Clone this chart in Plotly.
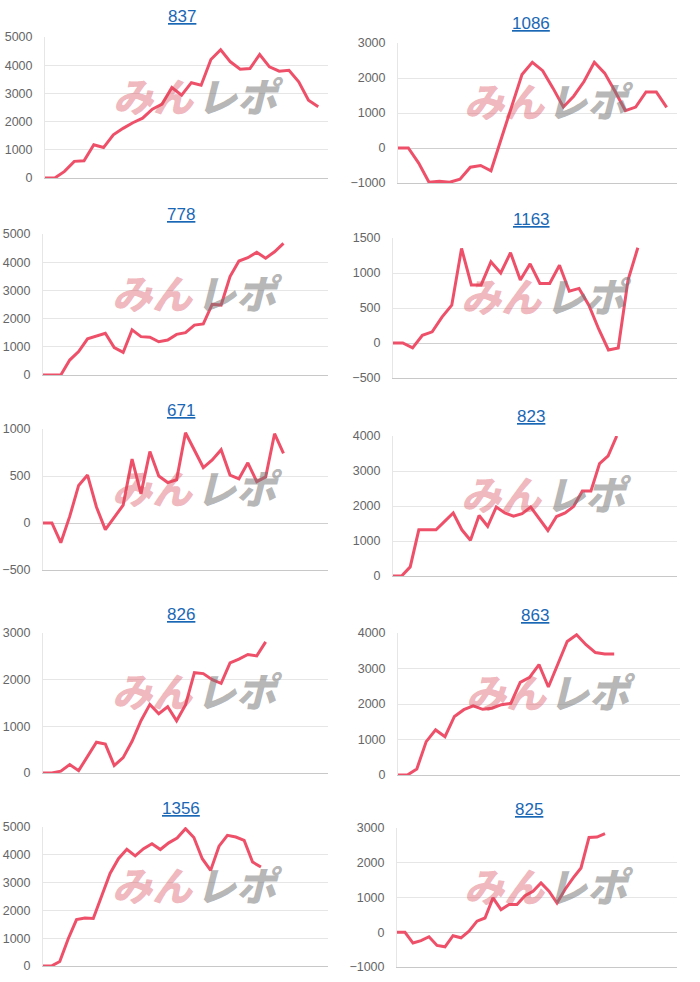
import plotly.graph_objects as go

W, H = 700, 982

titles = ["837", "1086", "778", "1163", "671", "823", "826", "863", "1356", "825"]

s837 = [0, 0, 235, 590, 610, 1180, 1080, 1530, 1760, 1960, 2120, 2440, 2620, 3210, 2940, 3380, 3290,
        4200, 4550, 4120, 3860, 3880, 4380, 3940, 3790, 3820, 3410, 2760, 2530]
s1086 = [0, 0, -430, -980, -950, -980, -890, -550, -500, -650, 270, 1190, 2100, 2450, 2210, 1710, 1170,
         1480, 1900, 2450, 2140, 1620, 1070, 1170, 1600, 1600, 1160]
s778 = [0, 0, 0, 530, 830, 1280, 1390, 1480, 970, 800, 1600, 1360, 1340, 1180, 1240, 1440, 1500, 1770,
        1810, 2510, 2480, 3490, 4040, 4160, 4350, 4140, 4370, 4670]
s1163 = [0, 0, -70, 110, 160, 370, 540, 1350, 830, 830, 1160, 1000, 1290, 900, 1130, 850, 850, 1110,
         740, 780, 540, 200, -100, -70, 900, 1360]
s671 = [0, 0, -210, 70, 400, 510, 170, -70, 60, 190, 680, 310, 760, 500, 430, 460, 960, 780, 590, 670,
        780, 510, 470, 640, 440, 490, 950, 740]
s823 = [0, 0, 260, 1320, 1320, 1320, 1560, 1800, 1320, 1020, 1730, 1420, 1970, 1800, 1710, 1780, 1970,
        1640, 1300, 1700, 1800, 1990, 2430, 2430, 3210, 3430, 4000]
s826 = [0, 0, 40, 180, 50, 360, 660, 620, 160, 330, 680, 1120, 1470, 1270, 1420, 1120, 1460, 2150, 2130,
        2000, 1920, 2360, 2440, 2540, 2510, 2810]
s863 = [0, 0, 170, 940, 1270, 1080, 1650, 1840, 1950, 1850, 1880, 1980, 2020, 2610, 2750, 3110, 2480,
        3110, 3760, 3950, 3670, 3450, 3410, 3410]
s1356 = [0, 0, 160, 970, 1670, 1730, 1710, 2510, 3330, 3860, 4200, 3960, 4220, 4400, 4190, 4430, 4600,
         4940, 4620, 3860, 3440, 4310, 4700, 4640, 4520, 3740, 3560]
s825 = [0, 0, -310, -240, -130, -380, -420, -100, -160, 30, 320, 410, 990, 650, 800, 800, 1050, 1180,
        1420, 1180, 840, 1230, 1560, 1850, 2730, 2740, 2840]

series = [s837, s1086, s778, s1163, s671, s823, s826, s863, s1356, s825]

# y axis tick ranges (min, max, step)
y_ticks = [(0, 5000, 1000), (-1000, 3000, 1000), (0, 5000, 1000), (-500, 1500, 500),
           (-500, 1000, 500), (0, 4000, 1000), (0, 3000, 1000), (0, 4000, 1000),
           (0, 5000, 1000), (-1000, 3000, 1000)]
# number of x slots shown on each axis
x_slots = [29, 27, 32, 29, 32, 33, 32, 30, 34, 35]

# ---- layout geometry (pixels) ----
boxes = [
    (45, 328, 37, 178),
    (398, 677, 43, 183),
    (43, 328, 234, 375),
    (393, 677, 238, 378),
    (43, 328, 429, 570),
    (393, 677, 436, 576),
    (43, 328, 633, 773),
    (398, 680, 633, 775),
    (43, 328, 827, 966),
    (397, 677, 828, 967),
]
title_pos = [(182, 17), (531, 24), (181, 215), (531, 219), (181, 410),
             (531, 416), (181, 614), (535, 615), (181, 808), (529, 809)]

LINE = "#ee5069"
fig = go.Figure()
layout = dict(width=W, height=H, margin=dict(l=0, r=0, t=0, b=0, autoexpand=False),
              paper_bgcolor="white", plot_bgcolor="white", showlegend=False,
              font=dict(family="Liberation Sans, Arial, sans-serif", color="#666"))
annotations = []

for i, (vals, t) in enumerate(zip(series, titles)):
    n = i + 1
    xa = "x" if n == 1 else f"x{n}"
    ya = "y" if n == 1 else f"y{n}"
    x0, x1, y0, y1 = boxes[i]
    fig.add_trace(go.Scatter(x=list(range(len(vals))), y=vals, mode="lines",
                             line=dict(color=LINE, width=3), xaxis=xa, yaxis=ya,
                             hoverinfo="skip"))
    lo, hi, st = y_ticks[i]
    layout[f"xaxis{'' if n == 1 else n}"] = dict(
        domain=[x0 / W, x1 / W], range=[0, x_slots[i]], anchor=ya,
        showgrid=False, zeroline=False, showticklabels=False, ticks="",
        showline=True, linecolor="#c8c8c8", linewidth=1, fixedrange=True, automargin=False)
    layout[f"yaxis{'' if n == 1 else n}"] = dict(
        domain=[1 - y1 / H, 1 - y0 / H], range=[lo, hi], anchor=xa,
        tickmode="linear", tick0=lo, dtick=st,
        showgrid=True, gridcolor="#e6e6e6", gridwidth=1,
        zeroline=True, zerolinecolor="#cfcfcf", zerolinewidth=1,
        showline=True, linecolor="#e6e6e6", linewidth=1,
        ticks="", ticklabelstandoff=9, automargin=False,
        tickfont=dict(size=12.5, color="#666", family="Liberation Sans, Arial, sans-serif"),
        fixedrange=True)
    tx, ty = title_pos[i]
    annotations.append(dict(text=f"<u>{t}</u>", x=tx / W, y=1 - ty / H, xref="paper", yref="paper",
                            xanchor="center", yanchor="middle", showarrow=False,
                            font=dict(size=17, color="#1a68b5",
                                      family="Liberation Sans, Arial, sans-serif")))
    # watermark (site logo text)
    for txt, cx, col in (("みん", 0.385, "rgba(215,70,85,0.40)"), ("レポ", 0.69, "rgba(120,120,120,0.55)")):
        annotations.append(dict(text=f"<i>{txt}</i>", x=cx, y=0.59,
                                xref=f"{xa} domain", yref=f"{ya} domain",
                                xanchor="center", yanchor="middle", showarrow=False,
                                font=dict(size=40, color=col, family="Noto Sans CJK JP", weight=900)))

layout["annotations"] = annotations
fig.update_layout(**layout)
fig.write_html("out.html")
